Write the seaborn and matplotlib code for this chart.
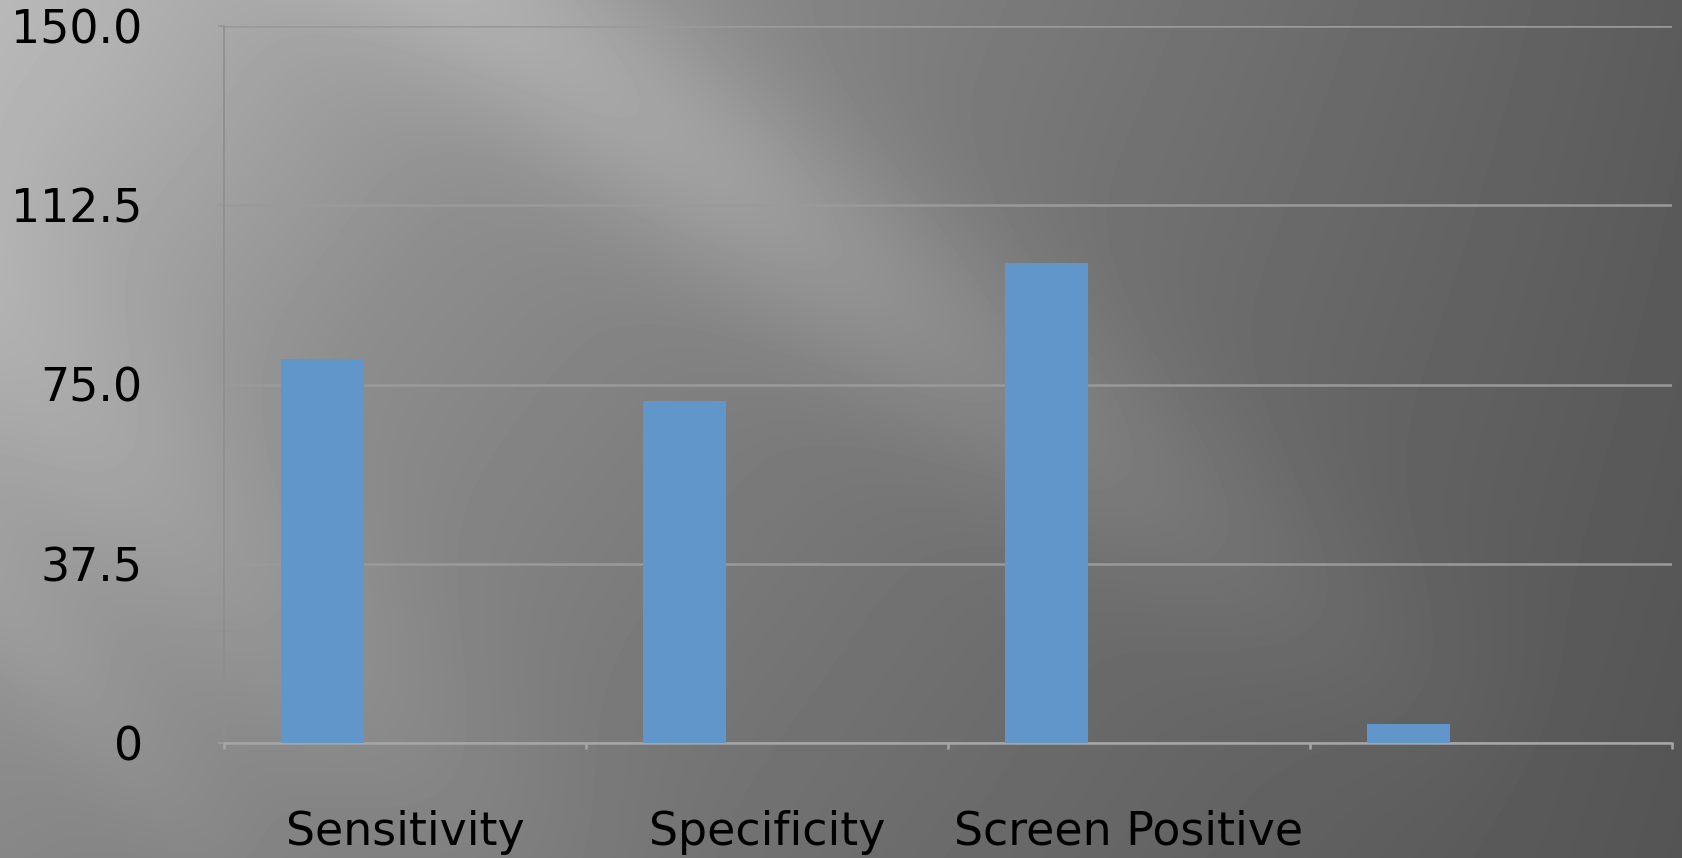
import matplotlib
matplotlib.use('Agg')
import matplotlib.pyplot as plt
import numpy as np
import pandas as pd
import seaborn as sns

# Chart data
categories = ['Sensitivity', 'Specificity', 'Screen Positive', '']
values = [80.4, 71.6, 100.4, 4.0]
# the chart has three series per category, only the first one holds values
series_names = ['Series 1', 'Series 2', 'Series 3']
empty_values = [0, 0, 0, 0]
y_ticks = [0, 37.5, 75, 112.5, 150]
y_tick_labels = ['0', '37.5', '75.0', '112.5', '150.0']

df = pd.concat([
    pd.DataFrame({'category': categories, 'value': values, 'series': series_names[0]}),
    pd.DataFrame({'category': categories, 'value': empty_values, 'series': series_names[1]}),
    pd.DataFrame({'category': categories, 'value': empty_values, 'series': series_names[2]}),
], ignore_index=True)

W, H = 1683, 858
sns.set_style('white')
plt.rcParams['font.family'] = ['DejaVu Sans']

fig = plt.figure(figsize=(W / 100, H / 100), dpi=100)


def light_band(xx, yy, p0, p1, sigma, amp, end=1.3):
    # soft diagonal streak between two pixel points
    d = np.array(p1, float) - np.array(p0, float)
    length = np.hypot(*d)
    n = np.array([-d[1], d[0]]) / length
    dist = (xx - p0[0]) * n[0] + (yy - p0[1]) * n[1]
    t = ((xx - p0[0]) * d[0] + (yy - p0[1]) * d[1]) / length ** 2
    fade = np.clip(end - t, 0, 1)
    return amp * np.exp(-0.5 * (dist / sigma) ** 2) * fade


# Background: grey gradient with light streaks
yy, xx = np.mgrid[0:H, 0:W].astype(float)
u, w = xx / W, yy / H
tl, tr, bl, br = 0.66, 0.36, 0.53, 0.33
bg = tl * (1 - u) * (1 - w) + tr * u * (1 - w) + bl * (1 - u) * w + br * u * w
bg += light_band(xx, yy, (488, 0), (1300, 600), 75, 0.11)
bg += light_band(xx, yy, (0, 0), (300, 220), 160, 0.06)
bg += light_band(xx, yy, (-80, 260), (560, 900), 90, 0.07)
bg += light_band(xx, yy, (-40, 560), (260, 900), 45, 0.04)
bg = np.clip(bg, 0, 1)
fig.figimage(bg, cmap='gray', vmin=0, vmax=1, origin='upper', zorder=-10)

ax = fig.add_axes([224 / W, 115 / H, (1672 - 224) / W, (743 - 26) / H])
ax.set_facecolor('none')

sns.barplot(data=df, x='category', y='value', hue='series', order=categories,
            hue_order=series_names, palette=['#6196CB'] * 3, width=0.684,
            gap=0, saturation=1, linewidth=0, legend=False, ax=ax, zorder=3)

ax.set_xlim(-0.5, len(categories) - 0.5)
ax.set_ylim(0, 150)
ax.set_yticks(y_ticks, y_tick_labels)
ax.set_xticks(range(len(categories)), categories)
ax.set_xticks(np.arange(len(categories) + 1) - 0.5, minor=True)
ax.set_xlabel('')
ax.set_ylabel('')

grid_col = '#9a9a9a'
ax.yaxis.grid(True, color=grid_col, linewidth=1.8, zorder=1)
ax.xaxis.grid(False)
for s in ['top', 'right']:
    ax.spines[s].set_visible(False)
ax.spines['left'].set_color('#8e8e8e')
ax.spines['left'].set_linewidth(1.2)
ax.spines['bottom'].set_color('#a6a6a6')
ax.spines['bottom'].set_linewidth(1.8)
ax.set_axisbelow(True)

ax.tick_params(axis='y', length=4.5, width=1.5, color=grid_col, pad=54,
               labelsize=33, labelcolor='black', left=True)
ax.tick_params(axis='x', which='major', length=0, pad=48, labelsize=33,
               labelcolor='black')
ax.tick_params(axis='x', which='minor', length=4.5, width=1.8, color='#a6a6a6',
               bottom=True)

fig.savefig('out.png', dpi=100)
